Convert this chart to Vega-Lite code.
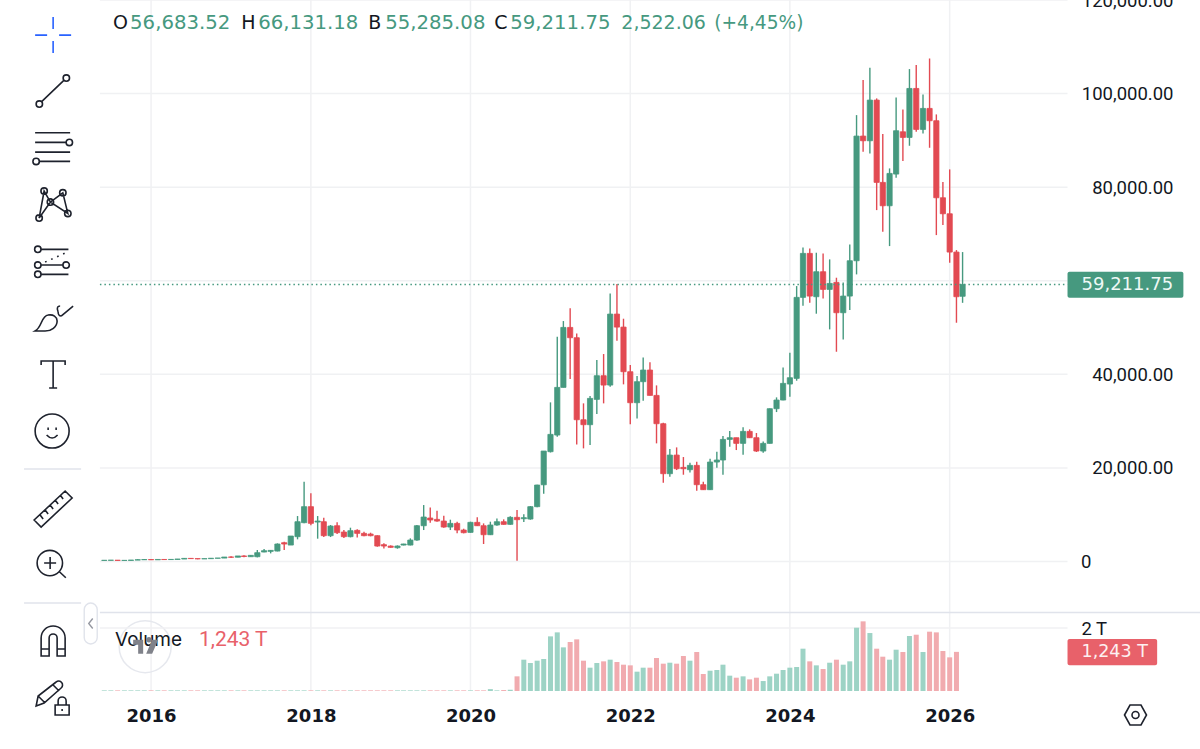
{
  "$schema": "https://vega.github.io/schema/vega-lite/v6.json",
  "width": 1200,
  "height": 749,
  "padding": 0,
  "autosize": "none",
  "background": "white",
  "config": {"view": {"stroke": null}},
  "datasets": {
    "candles": [
      {"date":"2015-06-01","open":230,"high":270,"low":220,"close":260,"volume_t":0.02},
      {"date":"2015-07-01","open":260,"high":310,"low":250,"close":280,"volume_t":0.02},
      {"date":"2015-08-01","open":280,"high":290,"low":200,"close":230,"volume_t":0.02},
      {"date":"2015-09-01","open":230,"high":250,"low":220,"close":240,"volume_t":0.02},
      {"date":"2015-10-01","open":240,"high":330,"low":240,"close":310,"volume_t":0.02},
      {"date":"2015-11-01","open":310,"high":500,"low":310,"close":380,"volume_t":0.02},
      {"date":"2015-12-01","open":380,"high":470,"low":350,"close":430,"volume_t":0.02},
      {"date":"2016-01-01","open":430,"high":460,"low":350,"close":370,"volume_t":0.02},
      {"date":"2016-02-01","open":370,"high":440,"low":370,"close":440,"volume_t":0.02},
      {"date":"2016-03-01","open":440,"high":440,"low":400,"close":420,"volume_t":0.02},
      {"date":"2016-04-01","open":420,"high":470,"low":420,"close":450,"volume_t":0.02},
      {"date":"2016-05-01","open":450,"high":550,"low":440,"close":530,"volume_t":0.02},
      {"date":"2016-06-01","open":530,"high":770,"low":530,"close":670,"volume_t":0.02},
      {"date":"2016-07-01","open":670,"high":700,"low":600,"close":620,"volume_t":0.02},
      {"date":"2016-08-01","open":620,"high":620,"low":480,"close":570,"volume_t":0.02},
      {"date":"2016-09-01","open":570,"high":620,"low":560,"close":610,"volume_t":0.02},
      {"date":"2016-10-01","open":610,"high":730,"low":600,"close":700,"volume_t":0.02},
      {"date":"2016-11-01","open":700,"high":750,"low":690,"close":740,"volume_t":0.02},
      {"date":"2016-12-01","open":740,"high":970,"low":740,"close":960,"volume_t":0.02},
      {"date":"2017-01-01","open":960,"high":1150,"low":750,"close":920,"volume_t":0.02},
      {"date":"2017-02-01","open":920,"high":1190,"low":920,"close":1190,"volume_t":0.02},
      {"date":"2017-03-01","open":1190,"high":1350,"low":900,"close":1080,"volume_t":0.02},
      {"date":"2017-04-01","open":1030,"high":1320,"low":1000,"close":1320,"volume_t":0.02},
      {"date":"2017-05-01","open":1030,"high":2460,"low":890,"close":1890,"volume_t":0.02},
      {"date":"2017-06-01","open":2030,"high":2670,"low":1960,"close":2310,"volume_t":0.02},
      {"date":"2017-07-01","open":2170,"high":2460,"low":1740,"close":2380,"volume_t":0.02},
      {"date":"2017-08-01","open":2240,"high":3880,"low":2170,"close":3740,"volume_t":0.02},
      {"date":"2017-09-01","open":4020,"high":4240,"low":2460,"close":3740,"volume_t":0.02},
      {"date":"2017-10-01","open":3520,"high":5450,"low":3520,"close":5450,"volume_t":0.02},
      {"date":"2017-11-01","open":5310,"high":9720,"low":4740,"close":8510,"volume_t":0.02},
      {"date":"2017-12-01","open":8300,"high":17060,"low":8160,"close":11720,"volume_t":0.02},
      {"date":"2018-01-01","open":11720,"high":14570,"low":7730,"close":8160,"volume_t":0.02},
      {"date":"2018-02-01","open":8440,"high":9720,"low":4880,"close":8650,"volume_t":0.02},
      {"date":"2018-03-01","open":8510,"high":9370,"low":5230,"close":5520,"volume_t":0.02},
      {"date":"2018-04-01","open":5520,"high":7800,"low":5230,"close":7580,"volume_t":0.02},
      {"date":"2018-05-01","open":7650,"high":8370,"low":5870,"close":6160,"volume_t":0.02},
      {"date":"2018-06-01","open":6300,"high":6730,"low":5020,"close":5310,"volume_t":0.02},
      {"date":"2018-07-01","open":5310,"high":7230,"low":5160,"close":6590,"volume_t":0.02},
      {"date":"2018-08-01","open":6660,"high":6900,"low":5160,"close":6020,"volume_t":0.02},
      {"date":"2018-09-01","open":6020,"high":6370,"low":5380,"close":5520,"volume_t":0.02},
      {"date":"2018-10-01","open":5870,"high":6160,"low":5380,"close":5520,"volume_t":0.02},
      {"date":"2018-11-01","open":5520,"high":5600,"low":3170,"close":3310,"volume_t":0.02},
      {"date":"2018-12-01","open":3600,"high":3880,"low":2810,"close":3310,"volume_t":0.02},
      {"date":"2019-01-01","open":3310,"high":3450,"low":2950,"close":3030,"volume_t":0.02},
      {"date":"2019-02-01","open":2950,"high":3450,"low":2740,"close":3310,"volume_t":0.02},
      {"date":"2019-03-01","open":3520,"high":3800,"low":3450,"close":3740,"volume_t":0.02},
      {"date":"2019-04-01","open":3520,"high":4950,"low":3450,"close":4590,"volume_t":0.02},
      {"date":"2019-05-01","open":4590,"high":7800,"low":4450,"close":7650,"volume_t":0.02},
      {"date":"2019-06-01","open":7650,"high":12070,"low":6730,"close":9510,"volume_t":0.02},
      {"date":"2019-07-01","open":9300,"high":11570,"low":8300,"close":8870,"volume_t":0.02},
      {"date":"2019-08-01","open":9010,"high":10860,"low":8510,"close":8650,"volume_t":0.02},
      {"date":"2019-09-01","open":8650,"high":9790,"low":7230,"close":7370,"volume_t":0.02},
      {"date":"2019-10-01","open":7370,"high":8940,"low":6730,"close":8150,"volume_t":0.02},
      {"date":"2019-11-01","open":8150,"high":8510,"low":6020,"close":6730,"volume_t":0.02},
      {"date":"2019-12-01","open":6730,"high":7010,"low":6020,"close":6160,"volume_t":0.02},
      {"date":"2020-01-01","open":6230,"high":8510,"low":6160,"close":8370,"volume_t":0.02},
      {"date":"2020-02-01","open":8370,"high":9440,"low":7580,"close":7650,"volume_t":0.02},
      {"date":"2020-03-01","open":7650,"high":8150,"low":3740,"close":5730,"volume_t":0.02},
      {"date":"2020-04-01","open":5730,"high":8510,"low":5660,"close":7800,"volume_t":0.06},
      {"date":"2020-05-01","open":7800,"high":9220,"low":7650,"close":8510,"volume_t":0.02},
      {"date":"2020-06-01","open":8510,"high":9010,"low":7870,"close":7940,"volume_t":0.03},
      {"date":"2020-07-01","open":7940,"high":9650,"low":7870,"close":9440,"volume_t":0.04},
      {"date":"2020-08-01","open":9440,"high":11000,"low":180,"close":8940,"volume_t":0.466},
      {"date":"2020-09-01","open":9150,"high":10080,"low":8440,"close":9370,"volume_t":0.995},
      {"date":"2020-10-01","open":9080,"high":11860,"low":8940,"close":11720,"volume_t":0.889},
      {"date":"2020-11-01","open":11720,"high":16400,"low":11600,"close":16350,"volume_t":0.963},
      {"date":"2020-12-01","open":16400,"high":23610,"low":14500,"close":23610,"volume_t":1.016},
      {"date":"2021-01-01","open":23470,"high":34010,"low":23300,"close":27170,"volume_t":1.735},
      {"date":"2021-02-01","open":27030,"high":48040,"low":26670,"close":37210,"volume_t":1.862},
      {"date":"2021-03-01","open":37210,"high":51390,"low":37210,"close":50030,"volume_t":1.386},
      {"date":"2021-04-01","open":50030,"high":54100,"low":38990,"close":47830,"volume_t":1.556},
      {"date":"2021-05-01","open":47830,"high":48750,"low":25030,"close":30300,"volume_t":1.64},
      {"date":"2021-06-01","open":30300,"high":33800,"low":24180,"close":29240,"volume_t":0.963},
      {"date":"2021-07-01","open":29240,"high":35360,"low":24890,"close":34860,"volume_t":0.741},
      {"date":"2021-08-01","open":34650,"high":43060,"low":31520,"close":39710,"volume_t":0.889},
      {"date":"2021-09-01","open":39710,"high":44340,"low":33800,"close":37710,"volume_t":0.942},
      {"date":"2021-10-01","open":37710,"high":57300,"low":37360,"close":52880,"volume_t":0.995},
      {"date":"2021-11-01","open":52880,"high":59300,"low":47190,"close":50100,"volume_t":0.921},
      {"date":"2021-12-01","open":50100,"high":51890,"low":37860,"close":40560,"volume_t":0.836},
      {"date":"2022-01-01","open":40560,"high":41990,"low":29310,"close":33940,"volume_t":0.815},
      {"date":"2022-02-01","open":33940,"high":39640,"low":30590,"close":38430,"volume_t":0.614},
      {"date":"2022-03-01","open":38430,"high":43620,"low":34370,"close":40920,"volume_t":0.741},
      {"date":"2022-04-01","open":40920,"high":42560,"low":35500,"close":35500,"volume_t":0.741},
      {"date":"2022-05-01","open":35500,"high":37640,"low":25250,"close":29450,"volume_t":1.048},
      {"date":"2022-06-01","open":29450,"high":29660,"low":16840,"close":18770,"volume_t":0.868},
      {"date":"2022-07-01","open":18770,"high":24040,"low":18130,"close":22750,"volume_t":0.899},
      {"date":"2022-08-01","open":22750,"high":24390,"low":19550,"close":19830,"volume_t":0.868},
      {"date":"2022-09-01","open":20120,"high":22330,"low":18550,"close":19830,"volume_t":1.111},
      {"date":"2022-10-01","open":19620,"high":21110,"low":19050,"close":20550,"volume_t":0.963},
      {"date":"2022-11-01","open":20550,"high":21330,"low":15130,"close":16420,"volume_t":1.238},
      {"date":"2022-12-01","open":16420,"high":17060,"low":15270,"close":15350,"volume_t":0.54},
      {"date":"2023-01-01","open":15350,"high":21970,"low":15270,"close":21260,"volume_t":0.645},
      {"date":"2023-02-01","open":21260,"high":23470,"low":20050,"close":21690,"volume_t":0.667},
      {"date":"2023-03-01","open":21690,"high":26810,"low":18550,"close":26100,"volume_t":0.836},
      {"date":"2023-04-01","open":26100,"high":27880,"low":24540,"close":26460,"volume_t":0.487},
      {"date":"2023-05-01","open":26460,"high":26460,"low":23820,"close":25250,"volume_t":0.423},
      {"date":"2023-06-01","open":25250,"high":28670,"low":22830,"close":27810,"volume_t":0.466},
      {"date":"2023-07-01","open":27810,"high":28240,"low":26390,"close":26460,"volume_t":0.37},
      {"date":"2023-08-01","open":26460,"high":27460,"low":23400,"close":23610,"volume_t":0.423},
      {"date":"2023-09-01","open":23610,"high":25670,"low":23250,"close":25250,"volume_t":0.317},
      {"date":"2023-10-01","open":25250,"high":32700,"low":25200,"close":32660,"volume_t":0.466},
      {"date":"2023-11-01","open":32660,"high":35080,"low":31940,"close":34510,"volume_t":0.55},
      {"date":"2023-12-01","open":34510,"high":41490,"low":34440,"close":38070,"volume_t":0.667},
      {"date":"2024-01-01","open":37930,"high":44620,"low":35220,"close":39280,"volume_t":0.741},
      {"date":"2024-02-01","open":39140,"high":58870,"low":38640,"close":56450,"volume_t":0.762},
      {"date":"2024-03-01","open":56450,"high":67130,"low":54670,"close":65850,"volume_t":1.344},
      {"date":"2024-04-01","open":65850,"high":66920,"low":55300,"close":56730,"volume_t":0.942},
      {"date":"2024-05-01","open":56590,"high":65990,"low":52960,"close":61930,"volume_t":0.815},
      {"date":"2024-06-01","open":61930,"high":65850,"low":56230,"close":58150,"volume_t":0.698},
      {"date":"2024-07-01","open":58150,"high":64570,"low":49610,"close":59440,"volume_t":0.899},
      {"date":"2024-08-01","open":59650,"high":60650,"low":44830,"close":53170,"volume_t":0.995},
      {"date":"2024-09-01","open":53170,"high":59650,"low":47470,"close":56730,"volume_t":0.836},
      {"date":"2024-10-01","open":56730,"high":67770,"low":53730,"close":64280,"volume_t":0.942},
      {"date":"2024-11-01","open":64280,"high":95400,"low":61360,"close":90920,"volume_t":2.01},
      {"date":"2024-12-01","open":90920,"high":102900,"low":87570,"close":89920,"volume_t":2.212},
      {"date":"2025-01-01","open":89920,"high":105520,"low":87200,"close":98610,"volume_t":1.841},
      {"date":"2025-02-01","open":98610,"high":98970,"low":75100,"close":81020,"volume_t":1.344},
      {"date":"2025-03-01","open":81020,"high":91350,"low":70470,"close":76030,"volume_t":1.09},
      {"date":"2025-04-01","open":76030,"high":84010,"low":67410,"close":82940,"volume_t":0.995},
      {"date":"2025-05-01","open":82800,"high":99180,"low":82010,"close":92060,"volume_t":1.312},
      {"date":"2025-06-01","open":91840,"high":96620,"low":85580,"close":90630,"volume_t":1.238},
      {"date":"2025-07-01","open":90630,"high":105240,"low":88850,"close":101100,"volume_t":1.746},
      {"date":"2025-08-01","open":101100,"high":106090,"low":91840,"close":92340,"volume_t":1.788},
      {"date":"2025-09-01","open":92340,"high":99820,"low":91490,"close":96830,"volume_t":1.238},
      {"date":"2025-10-01","open":96830,"high":107500,"low":88420,"close":94200,"volume_t":1.884},
      {"date":"2025-11-01","open":94200,"high":95550,"low":69760,"close":77740,"volume_t":1.862},
      {"date":"2025-12-01","open":77740,"high":81090,"low":71900,"close":74320,"volume_t":1.27},
      {"date":"2026-01-01","open":74320,"high":83800,"low":63850,"close":66130,"volume_t":1.069},
      {"date":"2026-02-01","open":66130,"high":66560,"low":51030,"close":56590,"volume_t":1.243},
      {"date":"2026-03-01","open":56683.52,"high":66131.18,"low":55285.08,"close":59211.75,"volume_t":null}
    ]
  },
  "encoding": {
    "x": {
      "type": "temporal",
      "scale": {
        "type": "utc",
        "nice": false,
        "padding": 0,
        "domain": [{"year":2014,"month":2,"date":9,"utc":true}, {"year":2029,"month":2,"date":19,"utc":true}]
      }
    }
  },
  "layer": [
    {
      "encoding": {
        "y": {"type": "quantitative", "scale": {"domain": [-40064, 120000], "nice": false, "zero": false, "padding": 0}}
      },
      "layer": [
        {
          "data": {"values": [{"year":"2016-01-01"},{"year":"2018-01-01"},{"year":"2020-01-01"},{"year":"2022-01-01"},{"year":"2024-01-01"},{"year":"2026-01-01"}]},
          "mark": {"type": "rule", "color": "#f0f1f3", "strokeWidth": 1.5},
          "encoding": {
            "x": {
              "field": "year",
              "axis": {
                "orient": "bottom", "offset": -50, "title": null, "grid": false, "domain": false, "ticks": false,
                "values": [{"year":2016,"month":1,"date":1,"utc":true},{"year":2018,"month":1,"date":1,"utc":true},{"year":2020,"month":1,"date":1,"utc":true},{"year":2022,"month":1,"date":1,"utc":true},{"year":2024,"month":1,"date":1,"utc":true},{"year":2026,"month":1,"date":1,"utc":true}],
                "format": "%Y", "labelPadding": 8, "labelFont": "DejaVu Sans", "labelFontSize": 18, "labelFontWeight": 700, "labelColor": "#131722"
              }
            },
            "y": {"datum": 120000},
            "y2": {"datum": -27671}
          }
        },
        {
          "data": {"values": [{"level":0},{"level":20000},{"level":40000},{"level":60000},{"level":80000},{"level":100000},{"level":120000}]},
          "mark": {"type": "rule", "color": "#f0f1f3", "strokeWidth": 1.5},
          "encoding": {
            "y": {
              "field": "level",
              "axis": {
                "orient": "right", "offset": -125, "title": null, "grid": false, "domain": false, "ticks": false,
                "values": [0,20000,40000,80000,100000,120000],
                "labelExpr": "datum.value === 0 ? '0' : format(datum.value, ',.2f')",
                "labelAlign": "right",
                "labelPadding": {"condition": {"test": "datum.value === 0", "value": 16}, "value": 98},
                "labelFont": "Roboto", "labelFontSize": 18.5, "labelColor": "#131722", "labelBound": false, "labelFlush": false, "labelOverlap": false
              }
            },
            "x": {"datum": {"year":2015,"month":5,"date":12,"utc":true}},
            "x2": {"datum": {"year":2027,"month":6,"date":24,"utc":true}}
          }
        },
        {
          "data": {"name": "candles"},
          "mark": {"type": "rule", "strokeWidth": 1.4},
          "encoding": {
            "x": {"field": "date"},
            "y": {"field": "low"},
            "y2": {"field": "high"},
            "color": {"condition": {"test": "datum.close >= datum.open", "value": "#46997f"}, "value": "#e24a52"}
          }
        },
        {
          "data": {"name": "candles"},
          "mark": {"type": "bar", "orient": "vertical", "size": 5.2, "strokeWidth": 0.8},
          "encoding": {
            "x": {"field": "date"},
            "y": {"field": "open"},
            "y2": {"field": "close"},
            "color": {"condition": {"test": "datum.close >= datum.open", "value": "#46997f"}, "value": "#e24a52"},
            "stroke": {"condition": {"test": "datum.close >= datum.open", "value": "#46997f"}, "value": "#e24a52"}
          }
        },
        {
          "data": {"values": [{"last": 59211.75}]},
          "mark": {"type": "rule", "color": "#46997f", "strokeWidth": 1.5, "strokeDash": [1.5, 3]},
          "encoding": {
            "y": {"field": "last"},
            "x": {"datum": {"year":2015,"month":5,"date":12,"utc":true}},
            "x2": {"datum": {"year":2027,"month":6,"date":24,"utc":true}}
          }
        },
        {
          "data": {"values": [{"tag": "price"}]},
          "mark": {"type": "rect", "color": "#46997f", "cornerRadius": 2},
          "encoding": {
            "x": {"datum": {"year":2027,"month":6,"date":24,"utc":true}},
            "x2": {"datum": {"year":2028,"month":12,"date":5,"utc":true}},
            "y": {"datum": 61923},
            "y2": {"datum": 56368}
          }
        },
        {
          "data": {"values": [{"label": "59,211.75"}]},
          "mark": {"type": "text", "align": "left", "baseline": "middle", "font": "DejaVu Sans", "fontSize": 18, "color": "#eef8f5"},
          "encoding": {
            "x": {"datum": {"year":2027,"month":8,"date":27,"utc":true}},
            "y": {"datum": 59150},
            "text": {"field": "label"}
          }
        },
        {
          "data": {"values": [{"tag": "volume"}]},
          "mark": {"type": "rect", "color": "#e8616a", "cornerRadius": 2},
          "encoding": {
            "x": {"datum": {"year":2027,"month":6,"date":24,"utc":true}},
            "x2": {"datum": {"year":2028,"month":8,"date":7,"utc":true}},
            "y": {"datum": -16560},
            "y2": {"datum": -22180}
          }
        },
        {
          "data": {"values": [{"label": "1,243 T"}]},
          "mark": {"type": "text", "align": "left", "baseline": "middle", "font": "DejaVu Sans", "fontSize": 17.5, "color": "#fdf0f1"},
          "encoding": {
            "x": {"datum": {"year":2027,"month":8,"date":27,"utc":true}},
            "y": {"datum": -19338},
            "text": {"field": "label"}
          }
        },
        {
          "data": {"values": [{"label": "O"}]},
          "mark": {"type": "text", "align": "left", "baseline": "middle", "font": "DejaVu Sans", "fontSize": 19, "color": "#131722"},
          "encoding": {"x": {"datum": {"year":2015,"month":7,"date":11,"utc":true}}, "y": {"datum": 115064}, "text": {"field": "label"}}
        },
        {
          "data": {"values": [{"label": "56,683.52"}]},
          "mark": {"type": "text", "align": "left", "baseline": "middle", "font": "DejaVu Sans", "fontSize": 19.7, "color": "#46997f"},
          "encoding": {"x": {"datum": {"year":2015,"month":9,"date":27,"utc":true}}, "y": {"datum": 115064}, "text": {"field": "label"}}
        },
        {
          "data": {"values": [{"label": "H"}]},
          "mark": {"type": "text", "align": "left", "baseline": "middle", "font": "DejaVu Sans", "fontSize": 19, "color": "#131722"},
          "encoding": {"x": {"datum": {"year":2017,"month":2,"date":16,"utc":true}}, "y": {"datum": 115064}, "text": {"field": "label"}}
        },
        {
          "data": {"values": [{"label": "66,131.18"}]},
          "mark": {"type": "text", "align": "left", "baseline": "middle", "font": "DejaVu Sans", "fontSize": 19.7, "color": "#46997f"},
          "encoding": {"x": {"datum": {"year":2017,"month":5,"date":5,"utc":true}}, "y": {"datum": 115064}, "text": {"field": "label"}}
        },
        {
          "data": {"values": [{"label": "B"}]},
          "mark": {"type": "text", "align": "left", "baseline": "middle", "font": "DejaVu Sans", "fontSize": 19, "color": "#131722"},
          "encoding": {"x": {"datum": {"year":2018,"month":9,"date":20,"utc":true}}, "y": {"datum": 115064}, "text": {"field": "label"}}
        },
        {
          "data": {"values": [{"label": "55,285.08"}]},
          "mark": {"type": "text", "align": "left", "baseline": "middle", "font": "DejaVu Sans", "fontSize": 19.7, "color": "#46997f"},
          "encoding": {"x": {"datum": {"year":2018,"month":12,"date":7,"utc":true}}, "y": {"datum": 115064}, "text": {"field": "label"}}
        },
        {
          "data": {"values": [{"label": "C"}]},
          "mark": {"type": "text", "align": "left", "baseline": "middle", "font": "DejaVu Sans", "fontSize": 19, "color": "#131722"},
          "encoding": {"x": {"datum": {"year":2020,"month":4,"date":19,"utc":true}}, "y": {"datum": 115064}, "text": {"field": "label"}}
        },
        {
          "data": {"values": [{"label": "59,211.75"}]},
          "mark": {"type": "text", "align": "left", "baseline": "middle", "font": "DejaVu Sans", "fontSize": 19.7, "color": "#46997f"},
          "encoding": {"x": {"datum": {"year":2020,"month":7,"date":1,"utc":true}}, "y": {"datum": 115064}, "text": {"field": "label"}}
        },
        {
          "data": {"values": [{"label": "2,522.06"}]},
          "mark": {"type": "text", "align": "left", "baseline": "middle", "font": "DejaVu Sans", "fontSize": 19, "color": "#46997f"},
          "encoding": {"x": {"datum": {"year":2021,"month":11,"date":21,"utc":true}}, "y": {"datum": 115064}, "text": {"field": "label"}}
        },
        {
          "data": {"values": [{"label": "(+4,45%)"}]},
          "mark": {"type": "text", "align": "left", "baseline": "middle", "font": "DejaVu Sans", "fontSize": 18.6, "color": "#46997f"},
          "encoding": {"x": {"datum": {"year":2023,"month":1,"date":20,"utc":true}}, "y": {"datum": 115064}, "text": {"field": "label"}}
        },
        {
          "data": {"values": [{"badge": "logo"}]},
          "mark": {"type": "point", "shape": "circle", "size": 2700, "filled": false, "stroke": "#e6e8ee", "strokeWidth": 1.5, "opacity": 1},
          "encoding": {"x": {"datum": {"year":2015,"month":12,"date":5,"utc":true}}, "y": {"datum": -18205}}
        },
        {
          "data": {"values": [{"label": "Volume"}]},
          "mark": {"type": "text", "align": "left", "baseline": "middle", "font": "Inter", "fontSize": 19, "color": "#131722"},
          "encoding": {"x": {"datum": {"year":2015,"month":7,"date":20,"utc":true}}, "y": {"datum": -16774}, "text": {"field": "label"}}
        },
        {
          "data": {"values": [{"label": "1,243 T"}]},
          "mark": {"type": "text", "align": "left", "baseline": "middle", "font": "Roboto", "fontSize": 21, "color": "#e8616a"},
          "encoding": {"x": {"datum": {"year":2016,"month":8,"date":7,"utc":true}}, "y": {"datum": -16774}, "text": {"field": "label"}}
        },
        {
          "data": {"values": [{"pane": "divider"}]},
          "mark": {"type": "rule", "color": "#e0e3eb", "strokeWidth": 1.5},
          "encoding": {"y": {"datum": -10898}, "x": {"datum": {"year":2015,"month":5,"date":12,"utc":true}}, "x2": {"datum": {"year":2029,"month":2,"date":19,"utc":true}}}
        },
        {
          "data": {"values": [{"pane": "toolbar"}]},
          "mark": {"type": "rule", "color": "#e0e3eb", "strokeWidth": 1.5},
          "encoding": {"y": {"datum": 19765}, "x": {"datum": {"year":2014,"month":5,"date":30,"utc":true}}, "x2": {"datum": {"year":2015,"month":2,"date":15,"utc":true}}}
        },
        {
          "data": {"values": [{"pane": "toolbar"}]},
          "mark": {"type": "rule", "color": "#e0e3eb", "strokeWidth": 1.5},
          "encoding": {"y": {"datum": -8868}, "x": {"datum": {"year":2014,"month":5,"date":30,"utc":true}}, "x2": {"datum": {"year":2015,"month":2,"date":15,"utc":true}}}
        },
        {
          "data": {"values": [{"tool": "logo seventeen"}]},
          "mark": {"type": "point", "size": 4, "filled": true, "fill": "#80828a", "stroke": null, "opacity": 1, "shape": "M-12,-7H-2V7H-7V-2H-12ZM1,7L7,-7H13L7,7ZM1,-7a2.8,2.8 0 1,0 5.6,0a2.8,2.8 0 1,0 -5.6,0"},
          "encoding": {"x": {"datum": {"year":2015,"month":12,"date":5,"utc":true}}, "y": {"datum": -18205}}
        },
        {
          "data": {"values": [{"tool": "crosshair"}]},
          "mark": {"type": "point", "size": 4, "filled": false, "stroke": "#2962ff", "strokeWidth": 1.6, "opacity": 1, "shape": "M0,-18V-6M0,6V18M-18,0H-6M6,0H18"},
          "encoding": {"x": {"datum": {"year":2014,"month":10,"date":10,"utc":true}}, "y": {"datum": 112502}}
        },
        {
          "data": {"values": [{"tool": "trend line"}]},
          "mark": {"type": "point", "size": 4, "filled": false, "stroke": "#1e222d", "strokeWidth": 1.6, "opacity": 1, "shape": "M-12,11L11,-11M-17,13a3.2,3.2 0 1,0 6.4,0a3.2,3.2 0 1,0 -6.4,0M10,-13a3.2,3.2 0 1,0 6.4,0a3.2,3.2 0 1,0 -6.4,0"},
          "encoding": {"x": {"datum": {"year":2014,"month":10,"date":10,"utc":true}}, "y": {"datum": 100534}}
        },
        {
          "data": {"values": [{"tool": "fib"}]},
          "mark": {"type": "point", "size": 4, "filled": false, "stroke": "#1e222d", "strokeWidth": 1.6, "opacity": 1, "shape": "M-18,-14.3H17M-18,-4.7H13M-18,5H17M-14,14.3H17M13,-4.7a3.2,3.2 0 1,0 6.4,0a3.2,3.2 0 1,0 -6.4,0M-20.2,14.3a3.2,3.2 0 1,0 6.4,0a3.2,3.2 0 1,0 -6.4,0"},
          "encoding": {"x": {"datum": {"year":2014,"month":10,"date":10,"utc":true}}, "y": {"datum": 88568}}
        },
        {
          "data": {"values": [{"tool": "pattern"}]},
          "mark": {"type": "point", "size": 4, "filled": false, "stroke": "#1e222d", "strokeWidth": 1.6, "opacity": 1, "shape": "M-14,14L-9,-13L-2.7,-2L9.7,-11.3L14.7,9.3L-2.7,-2L-14,14M-12.2,-13a3.2,3.2 0 1,0 6.4,0a3.2,3.2 0 1,0 -6.4,0M6.5,-11.3a3.2,3.2 0 1,0 6.4,0a3.2,3.2 0 1,0 -6.4,0M-5.9,-2a3.2,3.2 0 1,0 6.4,0a3.2,3.2 0 1,0 -6.4,0M-17.2,14a3.2,3.2 0 1,0 6.4,0a3.2,3.2 0 1,0 -6.4,0M11.5,9.3a3.2,3.2 0 1,0 6.4,0a3.2,3.2 0 1,0 -6.4,0"},
          "encoding": {"x": {"datum": {"year":2014,"month":10,"date":10,"utc":true}}, "y": {"datum": 76387}}
        },
        {
          "data": {"values": [{"tool": "forecast"}]},
          "mark": {"type": "point", "size": 4, "filled": false, "stroke": "#1e222d", "strokeWidth": 1.6, "opacity": 1, "shape": "M-12,-12.7H15.3M-12,3H10M-12,12.3H15.3M-18.5,-12.7a3.2,3.2 0 1,0 6.4,0a3.2,3.2 0 1,0 -6.4,0M-18.5,3a3.2,3.2 0 1,0 6.4,0a3.2,3.2 0 1,0 -6.4,0M-18.5,12.3a3.2,3.2 0 1,0 6.4,0a3.2,3.2 0 1,0 -6.4,0M9.8,3a3.2,3.2 0 1,0 6.4,0a3.2,3.2 0 1,0 -6.4,0M-8,0L-6.5,-0.7M-2,-2.7L-0.5,-3.4M4,-5.4L5.5,-6.1M10,-8.1L11.5,-8.8"},
          "encoding": {"x": {"datum": {"year":2014,"month":10,"date":10,"utc":true}}, "y": {"datum": 63995}}
        },
        {
          "data": {"values": [{"tool": "brush"}]},
          "mark": {"type": "point", "size": 4, "filled": false, "stroke": "#1e222d", "strokeWidth": 1.6, "opacity": 1, "shape": "M-18,13C-11,9 -12,-2 -5,-3C0,-4 4,-1 4,3C4,9 -2,13 -8,13ZM5,-6C3,-11 5,-12 7,-12M8,-2L20,-12M5,-6C5,-4 6,-2 8,-2"},
          "encoding": {"x": {"datum": {"year":2014,"month":10,"date":10,"utc":true}}, "y": {"datum": 52029}}
        },
        {
          "data": {"values": [{"tool": "text"}]},
          "mark": {"type": "point", "size": 4, "filled": false, "stroke": "#1e222d", "strokeWidth": 1.6, "opacity": 1, "shape": "M-12,-9V-13H12V-9M0,-13V14M-4,14H4"},
          "encoding": {"x": {"datum": {"year":2014,"month":10,"date":10,"utc":true}}, "y": {"datum": 40064}}
        },
        {
          "data": {"values": [{"tool": "smile"}]},
          "mark": {"type": "point", "size": 4, "filled": false, "stroke": "#1e222d", "strokeWidth": 1.6, "opacity": 1, "shape": "M-18,0a17,17 0 1,0 34,0a17,17 0 1,0 -34,0M-5,-3.5V-1M3,-3.5V-1M-6.5,4Q-1,10 4.5,4"},
          "encoding": {"x": {"datum": {"year":2014,"month":10,"date":10,"utc":true}}, "y": {"datum": 27885}}
        },
        {
          "data": {"values": [{"tool": "ruler"}]},
          "mark": {"type": "point", "size": 4, "filled": false, "stroke": "#1e222d", "strokeWidth": 1.6, "opacity": 1, "shape": "M-19,12L-12,19L19,-10L12,-17ZM-13,7l3,4M-8,2l3,4M-3,-3l3,4M2,-8l3,4M7,-13l3,4"},
          "encoding": {"x": {"datum": {"year":2014,"month":10,"date":10,"utc":true}}, "y": {"datum": 11432}}
        },
        {
          "data": {"values": [{"tool": "zoom"}]},
          "mark": {"type": "point", "size": 4, "filled": false, "stroke": "#1e222d", "strokeWidth": 1.6, "opacity": 1, "shape": "M-16,0a12.7,12.7 0 1,0 25.4,0a12.7,12.7 0 1,0 -25.4,0M-9,0H3M-3,-6V6M6.3,8.7L12.7,14.7"},
          "encoding": {"x": {"datum": {"year":2014,"month":10,"date":10,"utc":true}}, "y": {"datum": -321}}
        },
        {
          "data": {"values": [{"tool": "magnet"}]},
          "mark": {"type": "point", "size": 4, "filled": false, "stroke": "#1e222d", "strokeWidth": 1.6, "opacity": 1, "shape": "M-12,16V-2A12,12 0 0 1 12,-2V16H4V-2A4,4 0 0 0 -4,-2V16ZM-12,9H-4M4,9H12"},
          "encoding": {"x": {"datum": {"year":2014,"month":10,"date":10,"utc":true}}, "y": {"datum": -16774}}
        },
        {
          "data": {"values": [{"tool": "lock"}]},
          "mark": {"type": "point", "size": 4, "filled": false, "stroke": "#1e222d", "strokeWidth": 1.6, "opacity": 1, "shape": "M-17,7L-15,-3L3,-17A3.5,3.5 0 0 1 8,-11L-9,4ZM-15,-3L-8,4M0,-14L6,-8M2,6H16V16H2ZM5,6V2A4,4 0 0 1 13,2V6M9,10V12"},
          "encoding": {"x": {"datum": {"year":2014,"month":10,"date":10,"utc":true}}, "y": {"datum": -29380}}
        },
        {
          "data": {"values": [{"tool": "collapse"}]},
          "mark": {"type": "point", "size": 4, "filled": false, "stroke": "#e0e3eb", "strokeWidth": 1.4, "opacity": 1, "shape": "M-6.5,-14A6.5,6.5 0 0 1 6.5,-14V14A6.5,6.5 0 0 1 -6.5,14Z"},
          "encoding": {"x": {"datum": {"year":2015,"month":3,"date":31,"utc":true}}, "y": {"datum": -13248}}
        },
        {
          "data": {"values": [{"tool": "chevron"}]},
          "mark": {"type": "point", "size": 4, "filled": false, "stroke": "#9598a1", "strokeWidth": 1.4, "opacity": 1, "shape": "M2,-5L-2,0L2,5"},
          "encoding": {"x": {"datum": {"year":2015,"month":3,"date":31,"utc":true}}, "y": {"datum": -13248}}
        },
        {
          "data": {"values": [{"tool": "settings"}]},
          "mark": {"type": "point", "size": 4, "filled": false, "stroke": "#1e222d", "strokeWidth": 1.6, "opacity": 1, "shape": "M-11,0L-5.5,-10H5.5L11,0L5.5,10H-5.5ZM-3.5,0a3.5,3.5 0 1,0 7,0a3.5,3.5 0 1,0 -7,0"},
          "encoding": {"x": {"datum": {"year":2028,"month":4,"date":30,"utc":true}}, "y": {"datum": -32799}}
        }
      ]
    },
    {
      "encoding": {
        "y": {"type": "quantitative", "scale": {"domain": [-1.841, 21.94], "nice": false, "zero": false, "padding": 0}}
      },
      "layer": [
        {
          "data": {"values": [{"level": 2}]},
          "mark": {"type": "rule", "color": "#f0f1f3", "strokeWidth": 1.5},
          "encoding": {
            "y": {
              "field": "level",
              "axis": {
                "orient": "right", "offset": -125, "title": null, "grid": false, "domain": false, "ticks": false,
                "values": [2], "labelExpr": "'2 T'", "labelPadding": 6, "labelFont": "Roboto", "labelFontSize": 18.5, "labelColor": "#131722"
              }
            },
            "x": {"datum": {"year":2015,"month":5,"date":12,"utc":true}},
            "x2": {"datum": {"year":2027,"month":6,"date":24,"utc":true}}
          }
        },
        {
          "data": {"name": "candles"},
          "mark": {"type": "bar", "orient": "vertical", "size": 5},
          "encoding": {
            "x": {"field": "date"},
            "y": {"field": "volume_t"},
            "y2": {"datum": 0},
            "color": {"condition": {"test": "datum.close >= datum.open", "value": "#9dd3c5"}, "value": "#f1abaf"}
          }
        }
      ]
    }
  ],
  "resolve": {"scale": {"y": "independent"}}
}
